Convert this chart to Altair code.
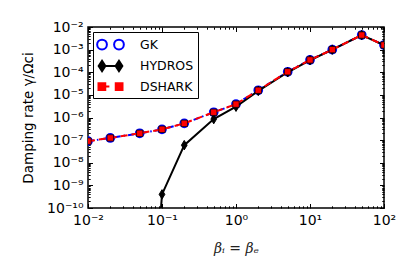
import altair as alt
import pandas as pd
import math

# ---- data ----
beta = [0.01, 0.02, 0.05, 0.1, 0.2, 0.5, 1, 2, 5, 10, 20, 50, 100]
gk = [9e-8, 1.25e-7, 2.0e-7, 3.0e-7, 5.5e-7, 1.7e-6, 3.9e-6, 1.6e-5, 1.05e-4, 3.5e-4, 1.0e-3, 4.4e-3, 1.6e-3]
hydros_beta = [0.05, 0.1, 0.2, 0.5, 1, 2, 5, 10, 20, 50, 100]
hydros = [1e-23, 4.0e-10, 6.0e-8, 8.5e-7, 3.0e-6, 1.5e-5, 1.0e-4, 3.4e-4, 1.0e-3, 4.4e-3, 1.6e-3]
dshark = [9e-8, 1.25e-7, 2.0e-7, 3.0e-7, 5.5e-7, 1.7e-6, 3.9e-6, 1.6e-5, 1.05e-4, 3.5e-4, 1.0e-3, 4.4e-3, 1.6e-3]

series_names = ["GK", "HYDROS", "DSHARK"]

x_major = [0.01, 0.1, 1, 10, 100]
x_major_labels = ["10⁻²", "10⁻¹", "10⁰", "10¹", "10²"]
y_major = [1e-10, 1e-9, 1e-8, 1e-7, 1e-6, 1e-5, 1e-4, 1e-3, 1e-2]
y_major_labels = ["10⁻¹⁰", "10⁻⁹", "10⁻⁸", "10⁻⁷", "10⁻⁶", "10⁻⁵", "10⁻⁴", "10⁻³", "10⁻²"]

x_ticks = [k * 10.0 ** e for e in range(-2, 2) for k in range(1, 10)] + [100.0]
y_ticks = [k * 10.0 ** e for e in range(-10, -2) for k in range(1, 10)] + [1e-2]

W, H = 296, 181

rows = []
for b, g in zip(beta, gk):
    rows.append({"beta": b, "gamma": g, "series": "GK"})
for b, g in zip(hydros_beta, hydros):
    rows.append({"beta": b, "gamma": g, "series": "HYDROS"})
for b, g in zip(beta, dshark):
    rows.append({"beta": b, "gamma": g, "series": "DSHARK"})
df = pd.DataFrame(rows)


def label_expr(values, labels):
    expr = "''"
    for v, lab in reversed(list(zip(values, labels))):
        expr = f"datum.value < {v * math.sqrt(10)!r} && datum.value > {v / math.sqrt(10)!r} ? '{lab}' : " + expr
    return expr


xscale = alt.Scale(type="log", domain=[0.01, 100], nice=False)
yscale = alt.Scale(type="log", domain=[1e-10, 1e-2], nice=False)

major_test = "abs(log(datum.value)/LN10 - round(log(datum.value)/LN10)) < 0.001"
tsize = {"condition": {"test": major_test, "value": 4.5}, "value": 2.2}

x_main_axis = alt.Axis(orient="bottom", values=x_major, labelExpr=label_expr(x_major, x_major_labels),
                       ticks=False, domain=False, grid=False, labelPadding=5,
                       labelFlush=False, labelOverlap=False, labelBound=False,
                       labelFont="DejaVu Sans", labelFontSize=14, labelColor="black",
                       title="βᵢ = βₑ", titleFont="DejaVu Serif", titleFontStyle="italic",
                       titleFontWeight="normal", titleFontSize=14, titleColor="#222222", titlePadding=14)
y_main_axis = alt.Axis(orient="left", values=y_major, labelExpr=label_expr(y_major, y_major_labels),
                       ticks=False, domain=False, grid=False, labelPadding=5,
                       labelFlush=False, labelOverlap=False, labelBound=False,
                       labelFont="DejaVu Sans", labelFontSize=14, labelColor="black",
                       title="Damping rate γ/Ωci", titleFont="DejaVu Sans", titleFontWeight="normal",
                       titleFontSize=13.5, titleColor="black", titlePadding=11)

base = alt.Chart(df)


def xy(xaxis=None, yaxis=None):
    return dict(
        x=alt.X("beta:Q", scale=xscale, axis=xaxis),
        y=alt.Y("gamma:Q", scale=yscale, axis=yaxis),
    )


gk_line = base.transform_filter("datum.series == 'GK'").mark_line(
    color="#0000ff", strokeWidth=2, strokeDash=[6, 3, 1.5, 3], clip=True
).encode(**xy(x_main_axis, y_main_axis))
gk_pts = base.transform_filter("datum.series == 'GK'").mark_point(
    shape="circle", filled=False, stroke="#0000ff", strokeWidth=2, size=60, opacity=1, clip=True
).encode(**xy())

hy_line = base.transform_filter("datum.series == 'HYDROS'").mark_line(
    color="black", strokeWidth=2, clip=True
).encode(**xy())
hy_pts = base.transform_filter("datum.series == 'HYDROS'").mark_point(
    shape="M0,-1 L0.6,0 L0,1 L-0.6,0 Z", filled=True, fill="black", stroke="black", strokeWidth=1,
    size=90, opacity=1, clip=True
).encode(**xy())

ds_line = base.transform_filter("datum.series == 'DSHARK'").mark_line(
    color="#ff0000", strokeWidth=2, strokeDash=[7, 4], clip=True
).encode(**xy())
ds_pts = base.transform_filter("datum.series == 'DSHARK'").mark_point(
    shape="square", filled=True, fill="#ff0000", stroke="black", strokeWidth=0.7,
    size=40, opacity=1, clip=True
).encode(**xy())

# legend symbols (marker - line - marker)
leg_gk = ("M -1.78,0 A 0.65,0.65 0 1,0 -0.48,0 A 0.65,0.65 0 1,0 -1.78,0 Z "
          "M 0.48,0 A 0.65,0.65 0 1,0 1.78,0 A 0.65,0.65 0 1,0 0.48,0 Z")
leg_hy = ("M -1.13,0 L 1.13,0 M -1.13,-0.7 L -0.68,0 L -1.13,0.7 L -1.58,0 Z "
          "M 1.13,-0.7 L 1.58,0 L 1.13,0.7 L 0.68,0 Z")
leg_ds = ("M -1.6,-0.45 L -0.7,-0.45 L -0.7,0.45 L -1.6,0.45 Z "
          "M 0.7,-0.45 L 1.6,-0.45 L 1.6,0.45 L 0.7,0.45 Z M -0.7,0 L -0.15,0")

legend = alt.Legend(orient="none", legendX=5, legendY=5, title=None, padding=4,
                    strokeColor="black", fillColor="white", cornerRadius=0,
                    symbolSize=225, symbolStrokeWidth=2, symbolOpacity=1,
                    symbolOffset=5, labelOffset=21, rowPadding=2.5,
                    labelFont="DejaVu Sans", labelFontSize=12.5, labelColor="black")

leg_layer = base.transform_filter("false").mark_point(filled=True, opacity=1).encode(
    shape=alt.Shape("series:N", scale=alt.Scale(domain=series_names, range=[leg_gk, leg_hy, leg_ds]), legend=legend),
    fill=alt.Fill("series:N", scale=alt.Scale(domain=series_names, range=["transparent", "black", "#ff0000"]), legend=legend),
    stroke=alt.Stroke("series:N", scale=alt.Scale(domain=series_names, range=["#0000ff", "black", "#ff0000"]), legend=legend),
)


def tick_axis(orient, offset, values):
    return alt.Axis(orient=orient, offset=offset, values=values, labels=False, domain=False, grid=False,
                    ticks=True, tickSize=tsize, tickColor="black", tickWidth=1, title=None)


ticks_a = base.mark_point(opacity=0).encode(
    x=alt.X("beta:Q", scale=xscale, axis=tick_axis("top", -H, x_ticks)),
    y=alt.Y("gamma:Q", scale=yscale, axis=tick_axis("right", -W, y_ticks)),
)
ticks_b = base.mark_point(opacity=0).encode(
    x=alt.X("beta:Q", scale=xscale, axis=tick_axis("bottom", -H, x_ticks)),
    y=alt.Y("gamma:Q", scale=yscale, axis=tick_axis("left", -W, y_ticks)),
)

chart = alt.layer(gk_line, ticks_a, ticks_b, gk_pts, hy_line, hy_pts, ds_line, ds_pts, leg_layer).resolve_axis(
    x="independent", y="independent"
).properties(
    width=W, height=H,
    autosize=alt.AutoSizeParams(type="none"),
    padding={"left": 80, "top": 19, "right": 15, "bottom": 61},
).configure_view(stroke="black", strokeWidth=1.5)

chart.save("out.html", embed_options={"renderer": "svg", "actions": False})
